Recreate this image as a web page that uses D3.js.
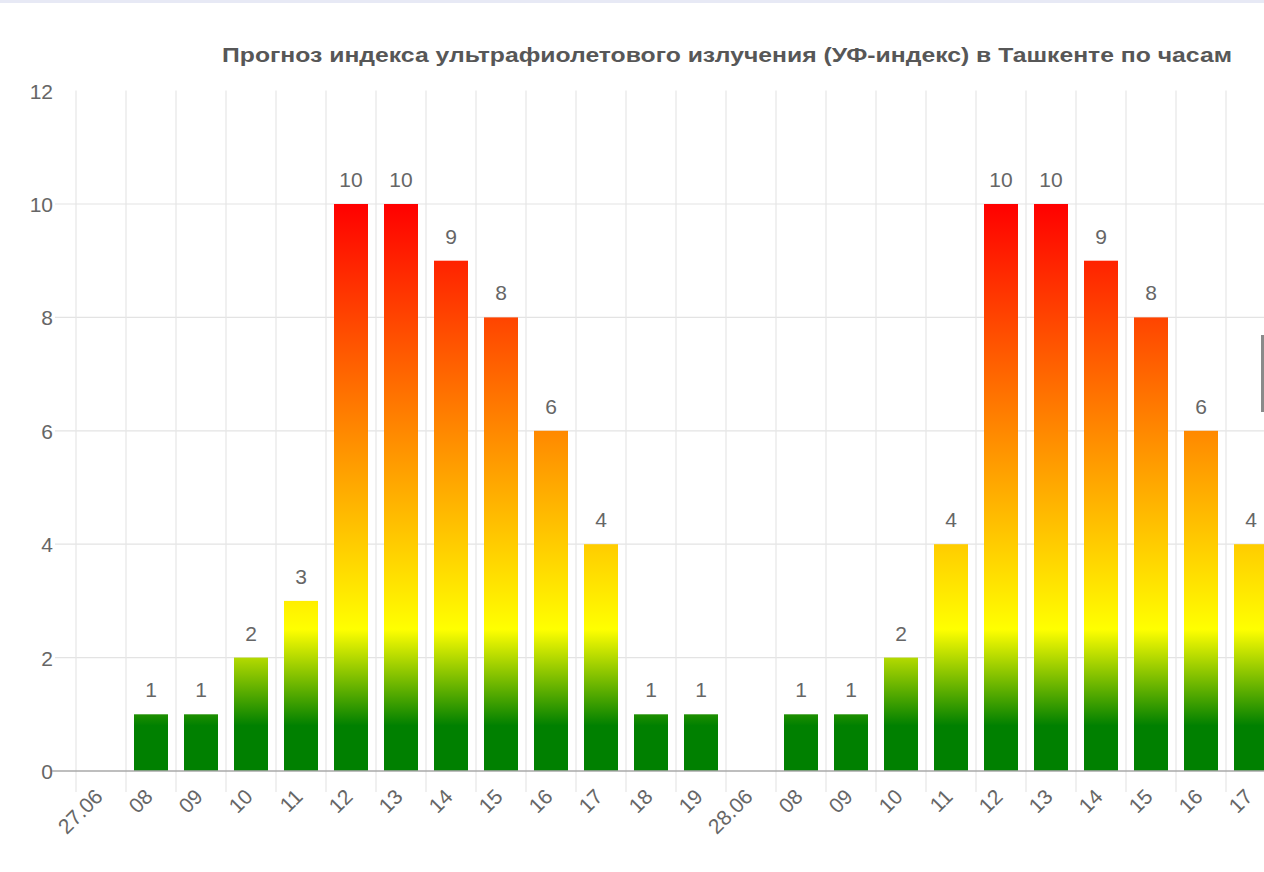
<!DOCTYPE html>
<html>
<head>
<meta charset="utf-8">
<script src="https://cdn.jsdelivr.net/npm/d3@7"></script>
<style>
  html, body { margin: 0; padding: 0; background: #fff; }
  svg { display: block; }
  text { font-family: "Liberation Sans", Arial, Helvetica, sans-serif; }
</style>
</head>
<body>
<svg id="chart" width="1264" height="872"></svg>
<script>
// ---- data ----
const titleText = "Прогноз индекса ультрафиолетового излучения (УФ-индекс) в Ташкенте по часам";
const categories = ["27.06","08","09","10","11","12","13","14","15","16","17","18","19",
                    "28.06","08","09","10","11","12","13","14","15","16","17"];
const uvValues = [null,1,1,2,3,10,10,9,8,6,4,1,1,
                  null,1,1,2,4,10,10,9,8,6,4];
const yTicks = [0,2,4,6,8,10,12];
// gradient stops by UV value
const gradStops = [
  {v: 0, c: "#008000"},
  {v: 0.8, c: "#008000"},
  {v: 2.5, c: "#ffff00"},
  {v: 10, c: "#ff0000"}
];

// ---- layout ----
const svg = d3.select("#chart");
const W = 1264, H = 872;
const x0 = 76, catW = 50;
const x = d3.scaleBand()
  .domain(d3.range(categories.length))
  .range([x0, x0 + catW * categories.length])
  .paddingInner(0.32).paddingOuter(0.16);
const xb = d3.scaleBand()
  .domain(d3.range(categories.length))
  .range([x0, x0 + catW * categories.length]);
const y = d3.scaleLinear().domain([0, 12]).range([771, 90.6]);

// top strip
svg.append("rect").attr("x", 0).attr("y", 0).attr("width", W).attr("height", 3).attr("fill", "#e7e9f5");

// gradient
const defs = svg.append("defs");
const grad = defs.append("linearGradient")
  .attr("id", "uvgrad").attr("gradientUnits", "userSpaceOnUse")
  .attr("x1", 0).attr("x2", 0).attr("y1", y(0)).attr("y2", y(12));
gradStops.forEach(s => {
  grad.append("stop").attr("offset", s.v / 12).attr("stop-color", s.c);
});

// horizontal grid
const gh = svg.append("g");
yTicks.filter(t => t > 0 && t < 12).forEach(t => {
  gh.append("line").attr("x1", 55).attr("x2", W).attr("y1", y(t)).attr("y2", y(t))
    .attr("stroke", "#e3e3e3").attr("stroke-width", 1.2);
});
// vertical grid at category boundaries
const gv = svg.append("g");
d3.range(categories.length + 1).forEach(i => {
  const xx = x0 + i * catW;
  gv.append("line").attr("x1", xx).attr("x2", xx).attr("y1", y(12)).attr("y2", 792)
    .attr("stroke", "#e6e6e6").attr("stroke-width", 1.2);
});

// y axis labels
const yAxis = d3.axisLeft(y).tickValues(yTicks).tickSize(0).tickPadding(0);
const ga = svg.append("g").attr("transform", "translate(53,0)").call(yAxis);
ga.select(".domain").remove();
ga.selectAll("text").attr("font-size", 21).attr("fill", "#666")
  .attr("font-family", "'Liberation Sans', Arial, sans-serif").attr("dy", "0.36em");

// bars
const data = categories.map((c, i) => ({i, c, v: uvValues[i]})).filter(d => d.v != null);
svg.append("g").selectAll("rect").data(data).join("rect")
  .attr("x", d => x(d.i))
  .attr("width", x.bandwidth())
  .attr("y", d => y(d.v))
  .attr("height", d => y(0) - y(d.v))
  .attr("fill", "url(#uvgrad)");

// zero axis line
svg.append("line").attr("x1", 52).attr("x2", W).attr("y1", y(0)).attr("y2", y(0))
  .attr("stroke", "#a8a8a8").attr("stroke-width", 1.3);

// value labels
svg.append("g").selectAll("text").data(data).join("text")
  .attr("x", d => xb(d.i) + xb.bandwidth() / 2)
  .attr("y", d => y(d.v) - 17)
  .attr("text-anchor", "middle")
  .attr("font-size", 21).attr("fill", "#666")
  .text(d => d.v);

// x labels
svg.append("g").selectAll("text").data(categories.map((c, i) => ({c, i}))).join("text")
  .attr("transform", d => `translate(${xb(d.i) + xb.bandwidth() / 2 + 3},798) rotate(-45)`)
  .attr("text-anchor", "end")
  .attr("font-size", 21).attr("fill", "#666")
  .text(d => d.c);

// title
svg.append("text")
  .attr("x", 1232).attr("y", 62)
  .attr("text-anchor", "end")
  .attr("font-size", 20).attr("font-weight", "bold").attr("fill", "#575757")
  .attr("textLength", 1010).attr("lengthAdjust", "spacingAndGlyphs")
  .text(titleText);

// scrollbar-like mark on right edge
svg.append("rect").attr("x", 1261).attr("y", 335).attr("width", 3).attr("height", 77).attr("fill", "#8a8a8a");
</script>
</body>
</html>
